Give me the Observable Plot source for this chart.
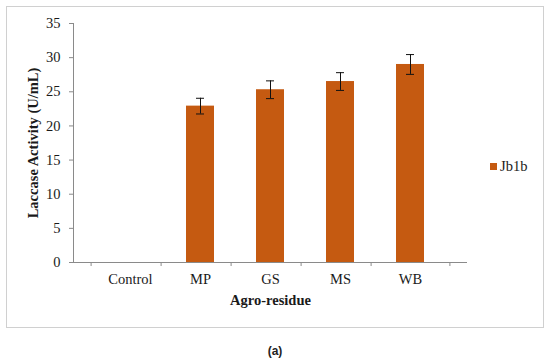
<!DOCTYPE html>
<html>
<head>
<meta charset="utf-8">
<script src="https://cdn.jsdelivr.net/npm/d3@7"></script>
<script src="https://cdn.jsdelivr.net/npm/@observablehq/plot@0.6"></script>
<style>
  body { margin: 0; background: #fff; }
  #wrap { position: relative; width: 550px; height: 361px; font-family: "Liberation Serif", serif; }
  #box { position: absolute; left: 6px; top: 6px; width: 536px; height: 320px; border: 1px solid #d0d0d0; }
  #legend { position: absolute; left: 490px; top: 158px; font-size: 14.5px; color: #1a1a1a; display: flex; align-items: center; }
  #legend .sw { width: 7px; height: 7px; background: #C55A11; margin-right: 3px; }
  #cap { position: absolute; left: 0; width: 550px; top: 344px; text-align: center; font-family: "Liberation Sans", sans-serif; font-weight: bold; font-size: 12px; color: #222; }
  svg { position: absolute; left: 0; top: 0; }
</style>
</head>
<body>
<div id="wrap">
  <div id="box"></div>
  <div id="chart"></div>
  <div id="legend"><span class="sw"></span><span id="legtext"></span></div>
  <div id="cap"></div>
</div>
<script>
const categories = ["Control", "MP", "GS", "MS", "WB"];
const values = [0, 22.9, 25.3, 26.5, 29.0];
const errors = [null, 1.15, 1.3, 1.3, 1.45];
const seriesName = "Jb1b";
const yLabel = "Laccase Activity (U/mL)";
const xLabel = "Agro-residue";
const caption = "(a)";
const yTicks = [0, 5, 10, 15, 20, 25, 30, 35];

const data = categories.map((c, i) => ({cat: c, v: values[i], e: errors[i]}));
const errData = data.filter(d => d.e != null);

const W = 550, H = 361, mL = 73, mR = 83, mT = 23, mB = 99;
const step = (W - mL - mR) / categories.length;
const axisColor = "#8a8a8a";
const textColor = "#1a1a1a";

const chart = Plot.plot({
  width: W, height: H,
  marginLeft: mL, marginRight: mR, marginTop: mT, marginBottom: mB,
  style: {fontFamily: "'Liberation Serif', serif", fontSize: "14.5px", color: textColor, background: "transparent"},
  x: {domain: categories, padding: 0.6, align: 0.5},
  y: {domain: [0, 35]},
  marks: [
    Plot.barY(data, {x: "cat", y: "v", fill: "#C55A11"}),
    Plot.ruleX(errData, {x: "cat", y1: d => d.v - d.e, y2: d => d.v + d.e, stroke: "#111", strokeWidth: 1}),
    Plot.tickY(errData, {x: "cat", y: d => d.v + d.e, stroke: "#111", strokeWidth: 1, className: "cap"}),
    Plot.tickY(errData, {x: "cat", y: d => d.v - d.e, stroke: "#111", strokeWidth: 1, className: "cap"}),
    Plot.frame({anchor: "left", stroke: axisColor}),
    Plot.ruleY([0], {stroke: axisColor}),
    Plot.axisY(yTicks, {tickSize: 4, tickPadding: 9, stroke: axisColor, fill: textColor, label: null}),
    Plot.axisX({tickSize: 0, tickPadding: 11, fill: textColor, label: null}),
    Plot.axisX(categories, {tickSize: 4, dx: -step / 2, stroke: axisColor, tickFormat: () => "", label: null}),
    Plot.axisX([categories[categories.length - 1]], {tickSize: 4, dx: step / 2, stroke: axisColor, tickFormat: () => "", label: null}),
    Plot.text([yLabel], {frameAnchor: "left", textAnchor: "middle", lineAnchor: "middle", dx: -40, rotate: -90, fontWeight: "bold", fontSize: 14.5, fill: textColor}),
    Plot.text([xLabel], {frameAnchor: "bottom", textAnchor: "middle", lineAnchor: "middle", dy: 38, fontWeight: "bold", fontSize: 14.5, fill: textColor})
  ]
});
document.getElementById("chart").appendChild(chart);

// shorten error-bar caps to a small width around the bar centre
d3.select(chart).selectAll("g.cap line").each(function() {
  const l = d3.select(this);
  const cx = (+l.attr("x1") + +l.attr("x2")) / 2;
  l.attr("x1", cx - 4).attr("x2", cx + 4);
});
document.getElementById("legtext").textContent = seriesName;
document.getElementById("cap").textContent = caption;
</script>
</body>
</html>
